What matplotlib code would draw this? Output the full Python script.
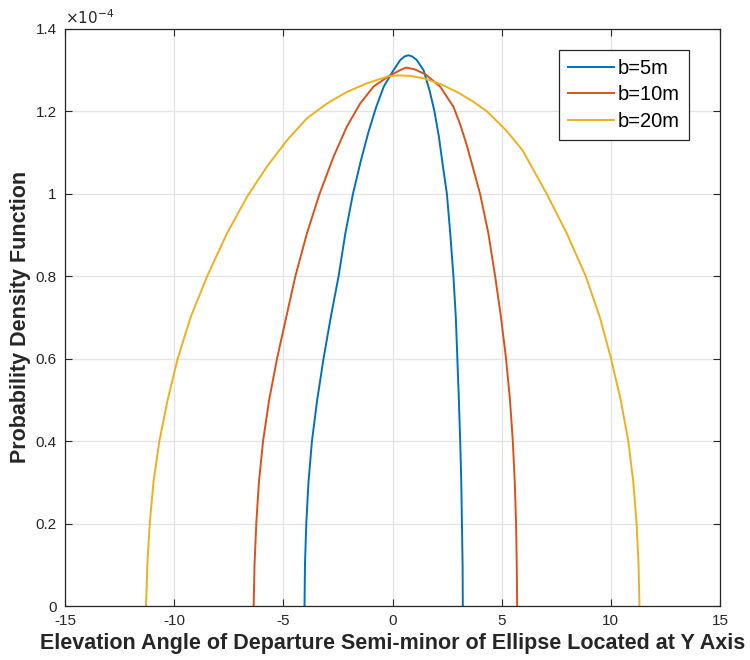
import matplotlib.pyplot as plt
import numpy as np

plt.rcParams['font.family'] = ['Liberation Sans', 'DejaVu Sans']
plt.rcParams['axes.unicode_minus'] = False

# values, y in units of 1e-4
x_b5 = [-4.03, -4.01, -3.95, -3.85, -3.69, -3.45, -3.16, -2.83, -2.47, -2.16,
        -1.81, -1.45, -1.10, -0.75, -0.40, 0.00, 0.35, 0.55, 0.73, 0.90,
        1.10, 1.42, 1.70, 1.92, 2.12, 2.30, 2.49, 2.65, 2.79, 2.90,
        2.97, 3.04, 3.10, 3.15, 3.18, 3.21, 3.22]
y_b5 = [0.0, 0.1, 0.2, 0.3, 0.4, 0.5, 0.6, 0.7, 0.8, 0.904,
        1.0, 1.08, 1.15, 1.21, 1.26, 1.296, 1.324, 1.333, 1.336, 1.333,
        1.325, 1.300, 1.25, 1.2, 1.14, 1.07, 1.0, 0.9, 0.8, 0.7,
        0.6, 0.5, 0.4, 0.3, 0.2, 0.1, 0.0]

x_b10 = [-6.36, -6.32, -6.24, -6.12, -5.93, -5.65, -5.29, -4.45, -3.92, -3.34,
         -2.70, -2.09, -1.48, -0.87, -0.18, 0.35, 0.62, 1.00, 1.50, 2.18,
         2.79, 3.10, 3.40, 4.01, 4.39, 4.70, 4.97, 5.20, 5.38, 5.51,
         5.60, 5.66, 5.69, 5.71]
y_b10 = [0.0, 0.1, 0.2, 0.3, 0.4, 0.5, 0.6, 0.8, 0.904, 1.0,
         1.09, 1.163, 1.219, 1.26, 1.285, 1.300, 1.306, 1.302, 1.290, 1.26,
         1.211, 1.168, 1.118, 1.0, 0.904, 0.8, 0.7, 0.6, 0.5, 0.4,
         0.3, 0.2, 0.1, 0.0]

x_b20 = [-11.29, -11.23, -11.12, -10.95, -10.68, -10.30, -9.84, -9.25, -8.49, -7.58,
         -6.66, -5.75, -4.83, -3.92, -3.00, -2.09, -1.17, -0.18, 0.30, 0.80,
         1.42, 2.20, 2.95, 3.65, 4.32, 5.20, 5.95, 7.07, 7.98, 8.85,
         9.50, 10.01, 10.45, 10.80, 11.03, 11.18, 11.27, 11.31]
y_b20 = [0.0, 0.1, 0.2, 0.3, 0.4, 0.5, 0.6, 0.7, 0.8, 0.904,
         0.993, 1.066, 1.130, 1.183, 1.219, 1.247, 1.268, 1.285, 1.287, 1.286,
         1.280, 1.266, 1.247, 1.225, 1.200, 1.154, 1.106, 0.999, 0.904, 0.8,
         0.7, 0.6, 0.5, 0.4, 0.3, 0.2, 0.1, 0.0]

labels = ['b=5m', 'b=10m', 'b=20m']
colors = ['#0072BD', '#D95319', '#EDB120']

fig = plt.figure(figsize=(7.5, 6.6), dpi=100)
ax = fig.add_axes([0.0867, 0.0818, 0.8733, 0.8745])

for xs, ys, lab, c in zip([x_b5, x_b10, x_b20], [y_b5, y_b10, y_b20], labels, colors):
    ax.plot(xs, ys, color=c, lw=1.4, label=lab)

ax.set_xlim(-15, 15)
ax.set_ylim(0, 1.4)
ax.set_xticks(np.arange(-15, 16, 5))
ax.set_yticks(np.arange(0, 1.41, 0.2))
ax.set_yticklabels(['0', '0.2', '0.4', '0.6', '0.8', '1', '1.2', '1.4'])
ax.grid(True, color='#e3e3e3', lw=0.9)
ax.set_axisbelow(True)
ax.tick_params(direction='in', length=5, width=0.8, top=True, right=True,
               labelsize=11, colors='#262626', pad=6)
for s in ax.spines.values():
    s.set_color('#262626')
    s.set_linewidth(0.9)

ax.text(0, 1.003, r'$\times 10^{-4}$', transform=ax.transAxes, fontsize=11,
        color='#262626', va='bottom', ha='left')

ax.set_xlabel('Elevation Angle of Departure Semi-minor of Ellipse Located at Y Axis',
              fontsize=15.5, fontweight='bold', color='#262626', labelpad=3)
ax.set_ylabel('Probability Density Function', fontsize=15.5, fontweight='bold',
              color='#262626', labelpad=3)

leg = ax.legend(loc='upper right', bbox_to_anchor=(0.953, 0.964), fontsize=14.5,
                fancybox=False, framealpha=1, edgecolor='#262626',
                handlelength=2.3, borderpad=0.45, labelspacing=0.38, handletextpad=0.2,
                borderaxespad=0)
leg.get_frame().set_linewidth(0.9)

fig.savefig('out.png', dpi=100)
